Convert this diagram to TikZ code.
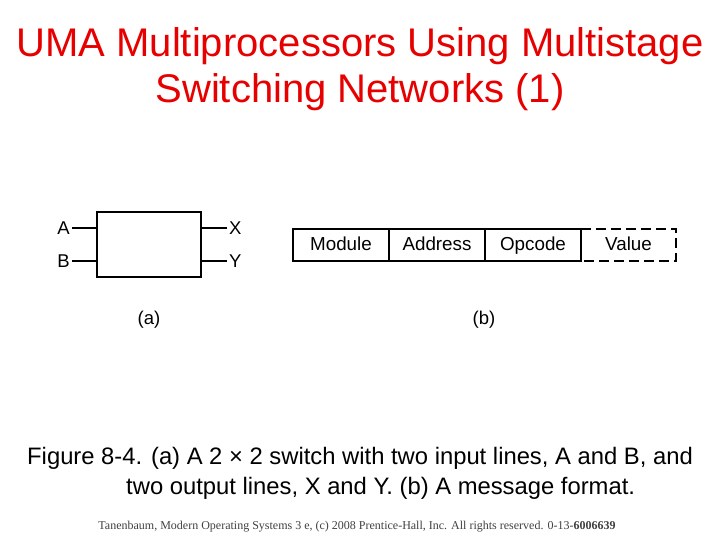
\documentclass[tikz,border=0pt]{standalone}
\usepackage{fontspec}
\setmainfont{Liberation Sans}
\newfontfamily\serifft{Liberation Serif}
\definecolor{titlered}{RGB}{230,0,0}
\begin{document}
\begin{tikzpicture}[x=1pt,y=-1pt,
  lbl/.style={inner sep=0pt,font=\fontsize{18.5}{18.5}\selectfont},
  fld/.style={inner sep=0pt,text height=14.5pt,text depth=2.5pt,font=\fontsize{18.8}{19}\selectfont},
  cell/.style={draw,line width=1.6pt,minimum width=96pt,minimum height=32pt,fld},
  wire/.style={line width=2pt},
  box/.style={draw,line width=2pt}]
\useasboundingbox (0,0) rectangle (720,540);
% title
\node[text=titlered,font=\fontsize{40}{46}\selectfont,align=center,inner sep=0pt] (title) at (360,69)
  {UMA Multiprocessors Using Multistage\\Switching Networks (1)};
% (a) switch
\node[box,minimum width=104pt,minimum height=65pt,inner sep=0pt] (sw) at (149,244.5) {};
\coordinate (a1) at (97,228); \coordinate (b1) at (97,261);
\coordinate (x1) at (201,228); \coordinate (y1) at (201,261);
\node[lbl,anchor=east] (A) at (70,228) {A};
\node[lbl,anchor=east] (B) at (70,261) {B};
\node[lbl,anchor=west] (X) at (229,228) {X};
\node[lbl,anchor=west] (Y) at (229,261) {Y};
\draw[wire] ([xshift=2pt]A.east) -- (a1);
\draw[wire] ([xshift=2pt]B.east) -- (b1);
\draw[wire] (x1) -- ([xshift=-2pt]X.west);
\draw[wire] (y1) -- ([xshift=-2pt]Y.west);
\node[lbl] (la) at (149,320) {(a)};
% (b) message
\node[cell] (mod) at (341,245) {Module};
\node[cell] (addr) at (437,245) {Address};
\node[cell] (op) at (533,245) {Opcode};
\node[fld,minimum width=95pt,minimum height=32pt] (val) at (628.5,245) {Value};
\draw[line width=1.6pt,dash pattern=on 10pt off 5pt] (val.north west) -- (val.north east) -- (val.south east) -- (val.south west);
\node[lbl] (lb) at (484,320) {(b)};
% caption
\node[anchor=west,inner sep=0pt,font=\fontsize{23.8}{24}\selectfont] (cap1) at (27,458)
  {Figure 8-4. (a) A 2 \texttimes{} 2 switch with two input lines, A and B, and};
\node[anchor=west,inner sep=0pt,font=\fontsize{23.8}{24}\selectfont] (cap2) at (126,488)
  {two output lines, X and Y. (b) A message format.};
% footer
\node[inner sep=0pt,font=\serifft\fontsize{12}{12}\selectfont,text=black!75] (foot) at (357,527)
  {Tanenbaum, Modern Operating Systems 3 e, (c) 2008 Prentice-Hall, Inc. All rights reserved. 0-13-\textbf{6006639}};
\end{tikzpicture}
\end{document}
